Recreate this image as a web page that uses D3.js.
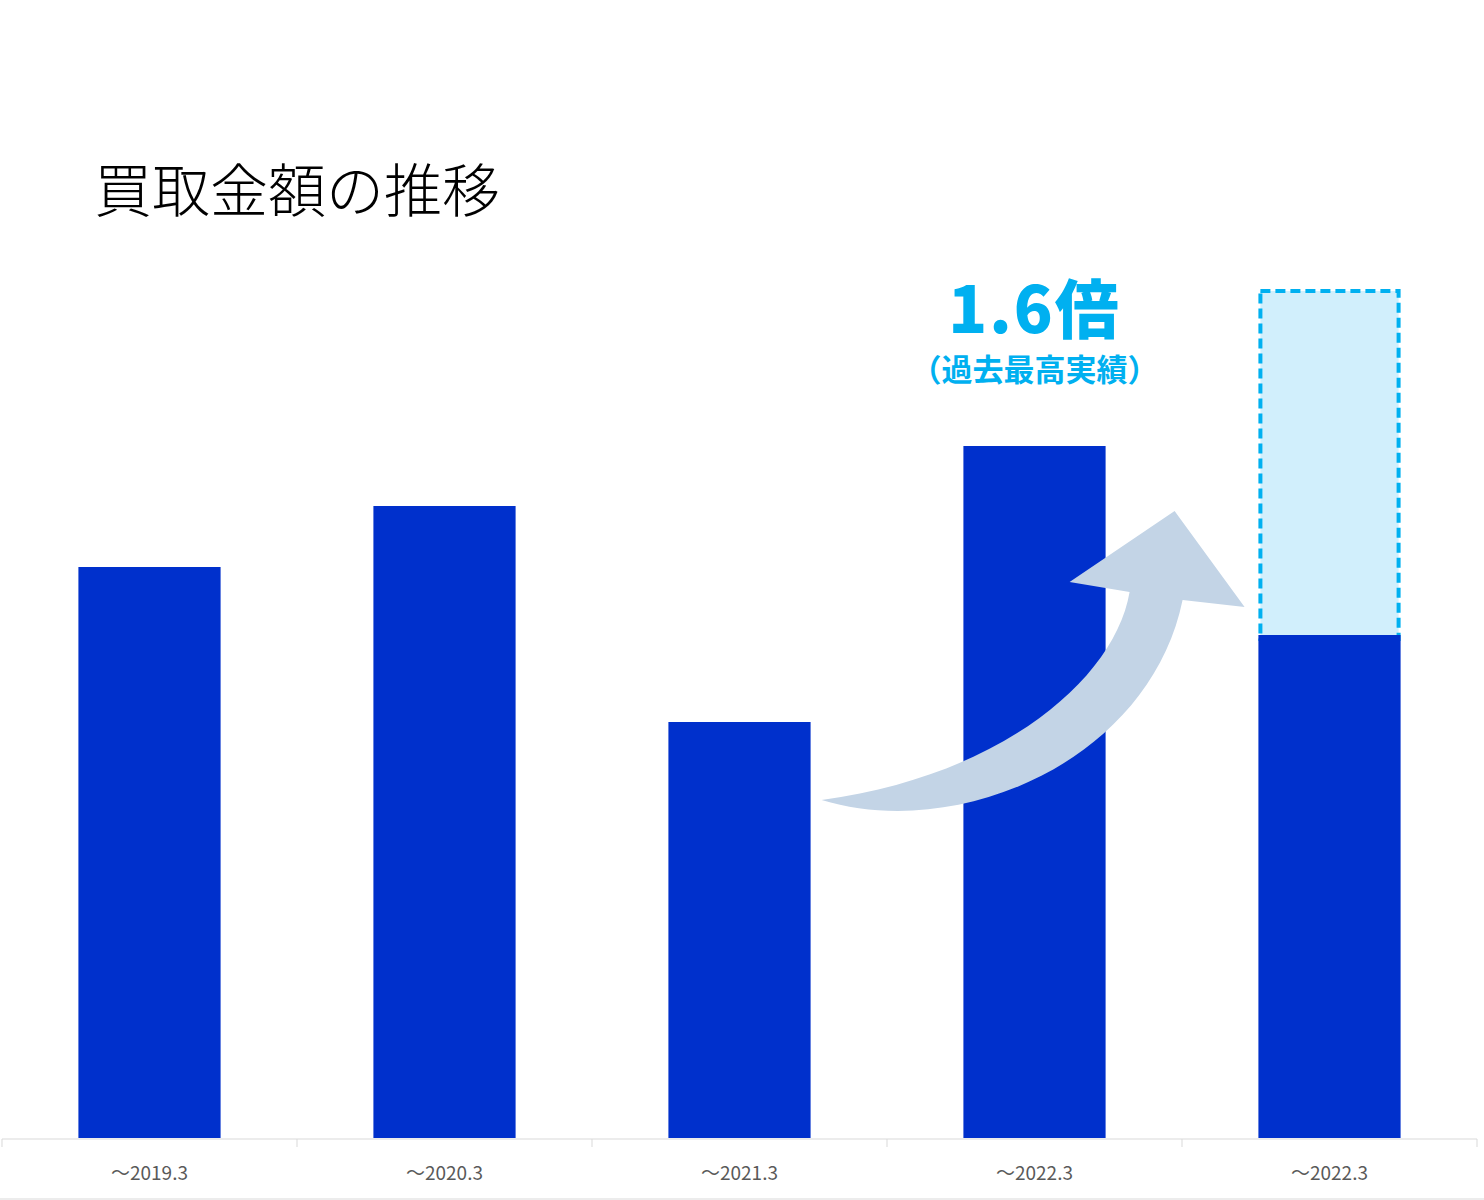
<!DOCTYPE html>
<meta charset="utf-8">
<script src="https://d3js.org/d3.v7.min.js"></script>
<style>
    body { margin: 0; background: #fff; }
    .lbl { font-family: "Liberation Sans Narrow", "Noto Sans CJK JP", sans-serif; }
    .jp { font-family: "Noto Sans CJK JP", sans-serif; }
</style>
<body>
<script>
// data
var categories = ["～2019.3", "～2020.3", "～2021.3", "～2022.3", "～2022.3 "];
var values = [57.1, 63.2, 41.6, 69.2, 50.3];
var targetValue = 84.7;       // dashed forecast box on last bar
var titleText = "買取金額の推移";
var noteMain = "1.6倍";
var noteSub = "（過去最高実績）";

var width = 1484, height = 1200;
var svg = d3.select("body").append("svg")
    .attr("width", width)
    .attr("height", height);

var x = d3.scaleBand()
    .domain(categories)
    .range([2, 1477])
    .paddingInner(0.518)
    .paddingOuter(0.259);

var y = d3.scaleLinear()
    .domain([0, 100])
    .range([1138, 138]);

// title
svg.append("text")
    .attr("class", "jp")
    .attr("x", 94)
    .attr("y", 212)
    .attr("font-size", "58px")
    .attr("font-weight", 300)
    .style("fill", "#000")
    .text(titleText);

// forecast box above last bar
var lastIdx = categories.length - 1;
var last = categories[lastIdx];
svg.append("rect")
    .attr("x", x(last) + 2)
    .attr("y", y(targetValue))
    .attr("width", x.bandwidth() - 4)
    .attr("height", y(values[lastIdx]) - y(targetValue) + 4)
    .style("fill", "#d1effc")
    .style("stroke", "#00b0f0")
    .style("stroke-width", 4)
    .style("stroke-dasharray", "10,5");

// bars
svg.selectAll("rect.bar")
    .data(values)
    .enter().append("rect")
    .attr("class", "bar")
    .style("fill", "#0030cc")
    .attr("x", function(d, i) { return x(categories[i]); })
    .attr("width", x.bandwidth())
    .attr("y", function(d) { return y(d); })
    .attr("height", function(d) { return y(0) - y(d); });

// curved arrow from bar 3 toward last bar
var ax = x(categories[2]) + x.bandwidth();   // right edge of bar 3
var ay = y(0);
var p = d3.path();
p.moveTo(ax + 11, ay - 338);
p.bezierCurveTo(ax + 149, ay - 296, ax + 339, ay - 378, ax + 372, ay - 538);
p.lineTo(ax + 434, ay - 531);
p.lineTo(ax + 364, ay - 627);
p.lineTo(ax + 259, ay - 556);
p.lineTo(ax + 319, ay - 546);
p.bezierCurveTo(ax + 304, ay - 458, ax + 189, ay - 362, ax + 11, ay - 338);
p.closePath();
svg.append("path")
    .attr("d", p.toString())
    .style("fill", "#c3d4e6");

// annotation
var cx = x(categories[3]) + x.bandwidth() / 2;
svg.append("text")
    .attr("class", "jp")
    .attr("x", cx)
    .attr("y", 333)
    .attr("text-anchor", "middle")
    .attr("font-size", "64px")
    .attr("font-weight", 900)
    .attr("letter-spacing", "2px")
    .style("fill", "#00b0f0")
    .text(noteMain);
svg.append("text")
    .attr("class", "jp")
    .attr("x", cx)
    .attr("y", 381)
    .attr("text-anchor", "middle")
    .attr("font-size", "31px")
    .attr("font-weight", 700)
    .style("fill", "#00b0f0")
    .text(noteSub);

// x axis
var axis = svg.append("g")
    .attr("transform", "translate(0," + 1139 + ")");
axis.append("line")
    .attr("x1", 2).attr("x2", 1477)
    .attr("y1", 0).attr("y2", 0)
    .style("stroke", "#d9d9d9")
    .style("stroke-width", 1.2);
var edges = categories.map(function(c) { return x(c) - x.step() * x.paddingInner() / 2; })
    .concat([1477]);
axis.selectAll("line.tick")
    .data(edges)
    .enter().append("line")
    .attr("class", "tick")
    .attr("x1", function(d) { return d; })
    .attr("x2", function(d) { return d; })
    .attr("y1", 0).attr("y2", 8)
    .style("stroke", "#d9d9d9");
axis.selectAll("text")
    .data(categories)
    .enter().append("text")
    .attr("class", "lbl")
    .attr("x", function(d) { return x(d) + x.bandwidth() / 2; })
    .attr("y", 41)
    .attr("text-anchor", "middle")
    .attr("font-size", "19px")
    .style("fill", "#595959")
    .text(function(d) { return d.trim(); });

// bottom border
svg.append("line")
    .attr("x1", 0).attr("x2", width)
    .attr("y1", 1199).attr("y2", 1199)
    .style("stroke", "#d9d9d9");
</script>
</body>
</html>
